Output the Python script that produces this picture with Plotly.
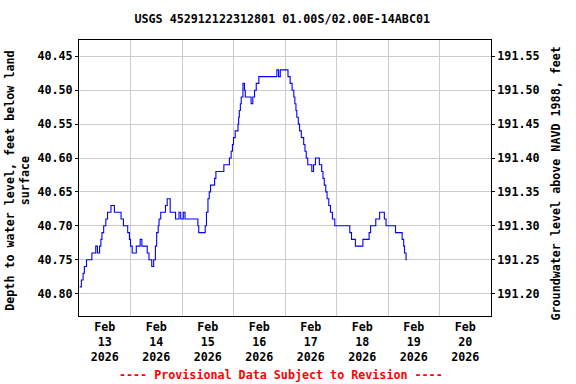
import datetime as dt
import plotly.graph_objects as go

# Hours after 2026-02-13 00:00 and depth to water (ft below land surface)
hours = [0.3, 1.1, 1.9, 2.5, 3.5, 6.0, 7.8, 8.6, 9.6, 10.2, 10.7, 11.5, 12.5, 13.3, 14.9,
         16.5, 19.6, 20.7, 22.7, 23.5, 24.0, 24.8, 26.7, 28.5, 29.3, 31.8, 32.6, 33.9, 34.8,
         35.6, 36.2, 36.9, 37.3, 38.1, 40.3, 41.1, 42.5, 45.0, 46.6, 47.4, 48.6, 49.4, 55.4,
         55.8, 58.8, 59.4, 60.1, 60.7, 61.3, 63.2, 63.8, 67.5, 70.1, 70.9, 71.5,
         72.0, 72.8, 74.1, 74.4, 74.7, 75.2, 75.6, 76.4, 77.1, 77.5, 80.2, 81.0, 81.8, 82.6,
         83.8, 92.2, 93.0, 93.8, 97.4, 98.4, 99.3, 100.1, 100.6, 101.1, 101.5, 102.2, 102.8,
         103.6, 104.7, 105.3, 105.9, 106.6, 108.5, 109.3, 110.2, 112.0, 113.1, 113.7, 114.3,
         115.0, 115.6, 116.4, 117.2, 118.1, 119.2, 126.2, 127.0, 128.8, 132.3, 135.2, 135.9,
         138.3, 140.1, 142.3, 143.1, 147.5, 150.6, 151.3, 151.7, 152.4, 152.8]
depth = [40.79, 40.78, 40.77, 40.76, 40.75, 40.74, 40.73, 40.74, 40.73, 40.72, 40.71, 40.70,
         40.69, 40.68, 40.67, 40.68, 40.69, 40.70, 40.71, 40.72, 40.73, 40.74, 40.73, 40.72,
         40.73, 40.74, 40.75, 40.76, 40.75, 40.73, 40.71, 40.70, 40.69, 40.68, 40.67, 40.66,
         40.68, 40.69, 40.68, 40.69, 40.68, 40.69, 40.70, 40.71, 40.70, 40.68, 40.66, 40.65,
         40.64, 40.63, 40.62, 40.61, 40.60, 40.59, 40.58,
         40.57, 40.56, 40.55, 40.54, 40.53, 40.52, 40.51, 40.49, 40.50, 40.51, 40.52, 40.51,
         40.50, 40.49, 40.48, 40.47, 40.48, 40.47, 40.48, 40.49, 40.50, 40.51, 40.52, 40.53,
         40.54, 40.55, 40.56, 40.57, 40.58, 40.59, 40.60, 40.61, 40.62, 40.61, 40.60, 40.61,
         40.62, 40.63, 40.64, 40.65, 40.66, 40.67, 40.68, 40.69, 40.70, 40.71, 40.72, 40.73,
         40.72, 40.71, 40.70, 40.69, 40.68, 40.69, 40.70, 40.71, 40.72, 40.73, 40.74, 40.75,
         40.75]

DATUM_OFFSET = 232.00  # groundwater level = offset - depth

left_ticks = [40.45, 40.50, 40.55, 40.60, 40.65, 40.70, 40.75, 40.80]
right_ticks = [191.20, 191.25, 191.30, 191.35, 191.40, 191.45, 191.50, 191.55]
day_labels = ["Feb<br>13<br>2026", "Feb<br>14<br>2026", "Feb<br>15<br>2026", "Feb<br>16<br>2026",
              "Feb<br>17<br>2026", "Feb<br>18<br>2026", "Feb<br>19<br>2026", "Feb<br>20<br>2026"]

start = dt.datetime(2026, 2, 13)
times = [start + dt.timedelta(hours=h) for h in hours]
label_pos = [start + dt.timedelta(days=i, hours=12) for i in range(len(day_labels))]
midnights = [start + dt.timedelta(days=i) for i in range(1, len(day_labels))]

FONT = "DejaVu Sans Mono"
FS = 11.7
tf = dict(family=FONT, size=FS, color="black", weight="bold")

fig = go.Figure()
fig.add_trace(go.Scatter(x=times, y=depth, mode="lines", line=dict(color="#0000ff", width=1.1),
                         line_shape="hv", showlegend=False))
fig.add_trace(go.Scatter(x=times, y=[DATUM_OFFSET - d for d in depth], mode="lines",
                         line=dict(width=0), opacity=0, yaxis="y2", showlegend=False,
                         hoverinfo="skip"))

ylo, yhi = 40.426, 40.833
fig.update_layout(
    width=576, height=384,
    margin=dict(l=79, r=85, t=40, b=68, autoexpand=False),
    paper_bgcolor="white", plot_bgcolor="white",
    title=dict(text="USGS 452912122312801 01.00S/02.00E-14ABC01", x=0.49, xanchor="center",
               y=1 - 19 / 384, yanchor="middle", font=tf),
    xaxis=dict(range=[start, start + dt.timedelta(days=8)], tickmode="array",
               tickvals=label_pos, ticktext=day_labels, showgrid=False, ticks="",
               tickfont=tf, showline=True, linecolor="black", linewidth=1, mirror=True,
               zeroline=False, automargin=False,
               minor=dict(tickvals=midnights, showgrid=True, gridcolor="#cccccc",
                          gridwidth=1, ticks="")),
    yaxis=dict(range=[yhi, ylo], tickvals=left_ticks,
               ticktext=[f"{v:.2f}" for v in left_ticks], tickfont=tf,
               showgrid=True, gridcolor="#cccccc", gridwidth=1, zeroline=False,
               showline=True, linecolor="black", linewidth=1, mirror=True,
               ticks="outside", ticklen=3, tickcolor="black", automargin=False),
    yaxis2=dict(range=[DATUM_OFFSET - yhi, DATUM_OFFSET - ylo], overlaying="y", side="right",
                tickvals=right_ticks, ticktext=[f"{v:.2f}" for v in right_ticks],
                tickfont=tf, showgrid=False, zeroline=False, ticks="outside", ticklen=3,
                tickcolor="black", automargin=False),
    annotations=[
        dict(text="Depth to water level, feet below land<br>surface", textangle=-90,
             xref="paper", yref="paper", x=(18 - 79) / 412, y=0.49, xanchor="center",
             yanchor="middle", showarrow=False, font=tf),
        dict(text="Groundwater level above NAVD 1988, feet", textangle=-90,
             xref="paper", yref="paper", x=(556 - 79) / 412, y=0.48, xanchor="center",
             yanchor="middle", showarrow=False, font=tf),
        dict(text="---- Provisional Data Subject to Revision ----", xref="paper", yref="paper",
             x=(281 - 79) / 412, y=(316 - 375) / 276, xanchor="center", yanchor="middle",
             showarrow=False, font=dict(family=FONT, size=FS, color="red", weight="bold")),
    ],
)

fig.write_html("out.html", config={"displayModeBar": False},
               post_script="document.body.style.margin='0';")
